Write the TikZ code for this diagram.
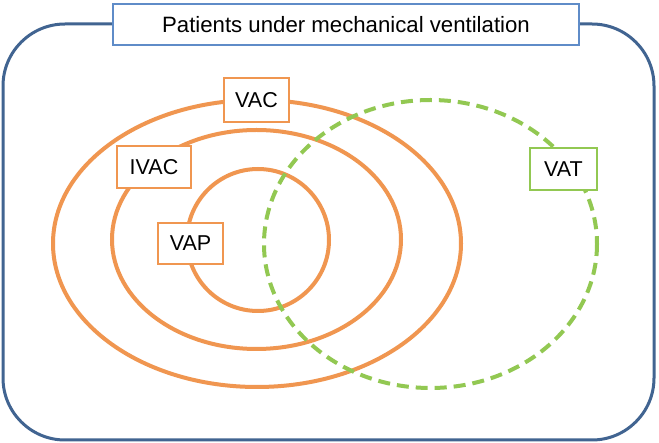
\documentclass[tikz,border=0pt]{standalone}
\usepackage{fontspec}
\setmainfont{Liberation Sans}
\definecolor{outerblue}{RGB}{65,100,145}
\definecolor{titleblue}{RGB}{95,140,200}
\definecolor{vorange}{RGB}{240,150,80}
\definecolor{vgreen}{RGB}{146,200,82}
\tikzset{
  orangering/.style={draw=vorange, line width=4},
  greenring/.style={draw=vgreen, line width=4, dash pattern=on 12pt off 7pt},
  lbl/.style={draw=vorange, line width=1.5, fill=white, inner sep=0pt,
    font=\fontsize{21.5}{25}\selectfont},
  vatlbl/.style={lbl, draw=vgreen},
  titlebox/.style={draw=titleblue, line width=1.5, fill=white, inner sep=0pt,
    font=\fontsize{22.2}{26}\selectfont}
}
\begin{document}
\begin{tikzpicture}[x=1pt,y=-1pt]
\useasboundingbox[fill=white] (0,0) rectangle (659,443);
\draw[outerblue, line width=3, rounded corners=62] (3,24) rectangle (654,440);
\node[titlebox, minimum width=466, minimum height=41] (title) at (346,24.5) {Patients under mechanical ventilation};
\draw[orangering] (257,243.5) ellipse [x radius=204, y radius=143.5];
\draw[orangering] (256.5,239.5) ellipse [x radius=144.5, y radius=109.5];
\draw[orangering] (258,240) ellipse [x radius=71, y radius=71];
\draw[greenring] (430.5,244) ellipse [x radius=166.5, y radius=144];
\node[lbl, minimum width=65, minimum height=44] (vac) at (256.5,100) {VAC};
\node[lbl, minimum width=74, minimum height=42] (ivac) at (154,167) {IVAC};
\node[lbl, minimum width=65, minimum height=41] (vap) at (190.5,243.5) {VAP};
\node[vatlbl, minimum width=67, minimum height=42] (vat) at (563.5,169) {VAT};
\end{tikzpicture}
\end{document}
